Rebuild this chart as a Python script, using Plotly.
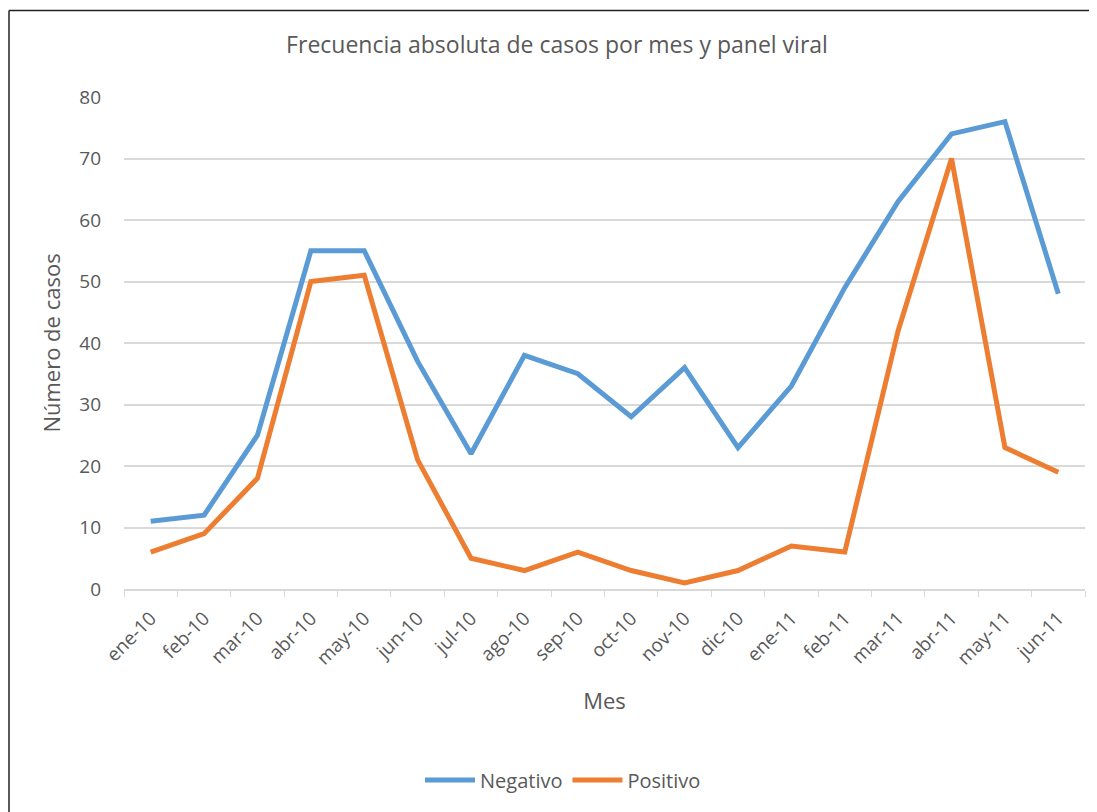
import plotly.graph_objects as go

meses = ["ene-10", "feb-10", "mar-10", "abr-10", "may-10", "jun-10", "jul-10", "ago-10",
         "sep-10", "oct-10", "nov-10", "dic-10", "ene-11", "feb-11", "mar-11", "abr-11",
         "may-11", "jun-11"]
negativo = [11, 12, 25, 55, 55, 37, 22, 38, 35, 28, 36, 23, 33, 49, 63, 74, 76, 48]
positivo = [6, 9, 18, 50, 51, 21, 5, 3, 6, 3, 1, 3, 7, 6, 42, 70, 23, 19]
y_ticks = [0, 10, 20, 30, 40, 50, 60, 70, 80]

# page body has an 8px margin, so the figure is laid out in page coords minus 8
OFF = 8
W, H = 1097 - OFF, 812 - OFF
L, R, T, B = 124 - OFF, 12, 97 - OFF, 223
pw, ph = W - L - R, H - T - B

def px_x(x):  # absolute page x -> paper
    return (x - OFF - L) / pw

def px_y(y):  # absolute page y -> paper
    return (H - B - (y - OFF)) / ph

FONT = "Open Sans, Noto Sans, sans-serif"
GRAY = "#595959"

fig = go.Figure()
fig.add_trace(go.Scatter(x=meses, y=negativo, mode="lines", name="Negativo",
                         line=dict(color="#5B9BD5", width=5)))
fig.add_trace(go.Scatter(x=meses, y=positivo, mode="lines", name="Positivo",
                         line=dict(color="#ED7D31", width=5)))

fig.update_layout(
    width=W, height=H,
    margin=dict(l=L, r=R, t=T, b=B),
    paper_bgcolor="white", plot_bgcolor="white",
    font=dict(family=FONT, color=GRAY, size=19),
    title=dict(text="Frecuencia absoluta de casos por mes y panel viral",
               x=px_x(557), xref="paper", xanchor="center",
               y=1 - (45 - OFF) / H, yref="container", yanchor="middle",
               font=dict(family=FONT, size=23, color=GRAY)),
    xaxis=dict(type="category", range=[-0.5, 17.5], showgrid=False,
               showline=True, linecolor="#d9d9d9", linewidth=1.5,
               ticks="outside", tickson="boundaries", ticklen=6, tickcolor="#d9d9d9",
               tickangle=-45, ticklabelstandoff=9, tickfont=dict(size=19, color=GRAY),
               title=dict(text="Mes", font=dict(size=22, color=GRAY), standoff=24)),
    yaxis=dict(range=[0, 80], tickvals=y_ticks, showgrid=True, gridcolor="#d9d9d9",
               gridwidth=1.5, zeroline=False, showline=False, ticks="",
               ticklabelstandoff=22, tickfont=dict(size=19, color=GRAY),
               title=dict(text="Número de casos", font=dict(size=22, color=GRAY), standoff=12)),
    legend=dict(orientation="h", x=px_x(563), xanchor="center", y=px_y(780), yanchor="middle",
                font=dict(size=20, color=GRAY), itemwidth=50, bgcolor="rgba(0,0,0,0)"),
    shapes=[
        dict(type="line", xref="paper", yref="paper", x0=px_x(9), x1=px_x(1200),
             y0=px_y(10.5), y1=px_y(10.5), line=dict(color="#222222", width=1.5)),
        dict(type="line", xref="paper", yref="paper", x0=px_x(9), x1=px_x(9),
             y0=px_y(10.5), y1=px_y(900), line=dict(color="#222222", width=1.5)),
    ],
)

fig.write_html("out.html")
